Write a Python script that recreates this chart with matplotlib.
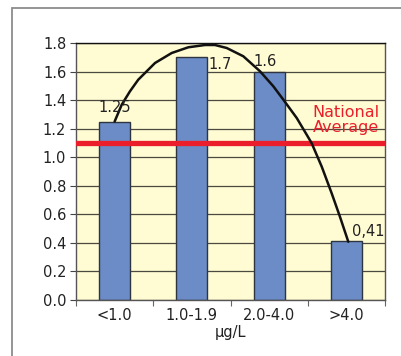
import matplotlib
matplotlib.use("Agg")
import matplotlib.pyplot as plt
from matplotlib.patches import Rectangle

categories = ["<1.0", "1.0-1.9", "2.0-4.0", ">4.0"]
values = [1.25, 1.7, 1.6, 0.41]
value_labels = ["1.25", "1.7", "1.6", "0,41"]
national_average = 1.1

# trend curve points (x in category units)
curve_x = [0.50, 0.592, 0.699, 0.806, 1.023, 1.239, 1.454, 1.670, 1.799, 1.951,
           2.166, 2.382, 2.554, 2.684, 2.857, 2.986, 3.051, 3.181, 3.310, 3.417, 3.525]
curve_y = [1.25, 1.368, 1.462, 1.543, 1.660, 1.730, 1.770, 1.786, 1.786, 1.765,
           1.707, 1.602, 1.497, 1.403, 1.275, 1.158, 1.098, 0.934, 0.747, 0.583, 0.408]

plt.rcParams['font.family'] = ['DejaVu Sans']

fig = plt.figure(figsize=(4.01, 3.56), dpi=100)
fig.patch.set_facecolor("white")
ax = fig.add_axes([76/401, 1-300/356, (385-76)/401, (300-43)/356])

# outer frame
fig.patches.append(Rectangle((12/401, -0.2), 1.2, 1-8/356+0.2, transform=fig.transFigure,
                             fill=False, edgecolor="#8c8c8c", linewidth=1.3))

ax.set_facecolor("#fffbd3")
pos = [i + 0.5 for i in range(len(categories))]
ax.set_xlim(0, 4)
ax.set_ylim(0, 1.8)
ax.set_yticks([i * 0.2 for i in range(10)])
ax.set_yticklabels([f"{i*0.2:.1f}" for i in range(10)], fontsize=10.5, color="#222")
ax.yaxis.grid(True, color="#4a4a40", linewidth=0.9)
ax.set_axisbelow(True)

ax.set_xticks([0, 1, 2, 3, 4])
ax.set_xticklabels([])
ax.set_xticks(pos, minor=True)
ax.set_xticklabels(categories, minor=True, fontsize=10.5, color="#222")
ax.tick_params(axis="x", which="minor", length=0, pad=6)
ax.tick_params(axis="x", which="major", length=4, color="#666")
ax.tick_params(axis="y", length=4, color="#444", pad=3)

for s in ax.spines.values():
    s.set_color("#555")
    s.set_linewidth(1.0)
ax.spines["top"].set_color("#111")

ax.bar(pos, values, width=0.4, color="#6b8cc7", edgecolor="#2f3540", linewidth=1.0, zorder=2)
ax.axhline(national_average, color="#ea1f2b", linewidth=3.8, zorder=3)
ax.plot(curve_x, curve_y, color="#111", linewidth=1.8, zorder=4,
        solid_capstyle="round", solid_joinstyle="round")

# value labels
ax.text(pos[0] - 0.21, values[0] + 0.045, value_labels[0], fontsize=10.5, color="#222",
        ha="left", va="bottom", zorder=5)
ax.text(pos[1] + 0.22, values[1] - 0.05, value_labels[1], fontsize=10.5, color="#222",
        ha="left", va="center", zorder=5)
ax.text(pos[2] - 0.05, values[2] + 0.02, value_labels[2], fontsize=10.5, color="#222",
        ha="center", va="bottom", zorder=5)
ax.text(pos[3] + 0.07, values[3] + 0.02, value_labels[3], fontsize=10.5, color="#222",
        ha="left", va="bottom", zorder=5)

ax.text(3.93, 1.155, "National\nAverage", fontsize=11.5, color="#ea1f2b", ha="right",
        va="bottom", linespacing=1.0, family=["Liberation Sans Narrow", "DejaVu Sans"], zorder=5)

ax.set_xlabel("μg/L", fontsize=10.5, color="#222", labelpad=1)

fig.savefig("out.png", dpi=100)
